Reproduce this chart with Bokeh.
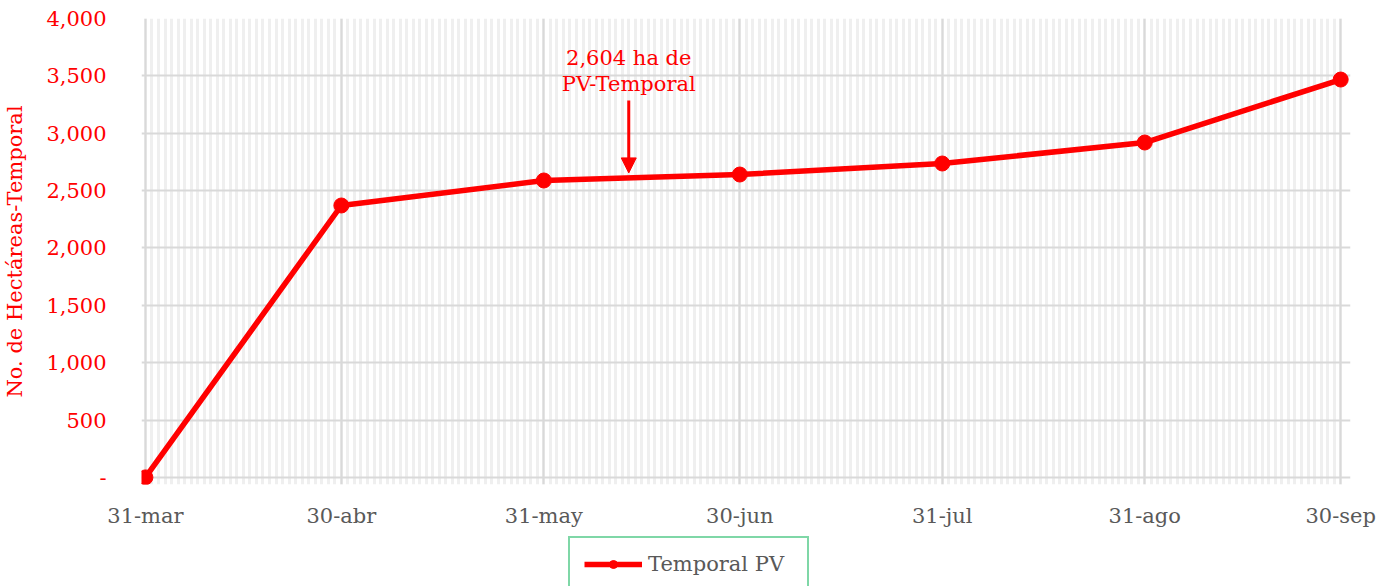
from datetime import datetime, timedelta
from bokeh.plotting import figure
from bokeh.layouts import column
from bokeh.models import (FixedTicker, Range1d, Legend, LegendItem, Label, Arrow,
                          NormalHead, ColumnDataSource)
from bokeh.embed import file_html
from bokeh.resources import INLINE

# ---- data ----
dates = ["2023-03-31", "2023-04-30", "2023-05-31", "2023-06-30", "2023-07-31", "2023-08-31", "2023-09-30"]
tick_labels = ["31-mar", "30-abr", "31-may", "30-jun", "31-jul", "31-ago", "30-sep"]
hectares = [0, 2370, 2588, 2640, 2736, 2919, 3468]
series_name = "Temporal PV"
y_ticks = [0, 500, 1000, 1500, 2000, 2500, 3000, 3500, 4000]
y_tick_labels = ["-", "500", "1,000", "1,500", "2,000", "2,500", "3,000", "3,500", "4,000"]
annot_date = "2023-06-13"
annot_value = 2604
annot_text = "2,604 ha de\nPV-Temporal"

FONT = "DejaVu Serif"
FS = "21px"
RED = "#FF0000"
GRAY_TXT = "#595959"

dt = [datetime.strptime(d, "%Y-%m-%d") for d in dates]
def ms(d):
    return (d - datetime(1970, 1, 1)).total_seconds() * 1000.0

xs = [ms(d) for d in dt]
DAY = 86400000.0
minor = [ms(dt[0] + timedelta(days=i)) for i in range(0, (dt[-1] - dt[0]).days + 1)]

p = figure(width=1382, height=536, x_axis_type="datetime",
           output_backend="svg", toolbar_location=None,
           min_border_left=141, min_border_right=32, min_border_top=18, min_border_bottom=52)
p.x_range = Range1d(xs[0] - 0.6 * DAY, xs[-1] + 1.5 * DAY)
p.y_range = Range1d(-62, 4000)
p.outline_line_color = None

# x axis
p.xaxis.ticker = FixedTicker(ticks=xs, minor_ticks=minor)
p.xaxis.major_label_overrides = {x: l for x, l in zip(xs, tick_labels)}
p.xaxis.major_label_text_font = FONT
p.xaxis.major_label_text_font_size = FS
p.xaxis.major_label_text_color = GRAY_TXT
p.xaxis.axis_line_color = None
p.xaxis.major_tick_line_color = None
p.xaxis.major_tick_out = 0
p.xaxis.major_tick_in = 0
p.xaxis.minor_tick_line_color = None
p.xaxis.major_label_standoff = 15

# y axis
p.yaxis.ticker = FixedTicker(ticks=y_ticks)
p.yaxis.major_label_overrides = {t: l for t, l in zip(y_ticks, y_tick_labels)}
p.yaxis.major_label_text_font = FONT
p.yaxis.major_label_text_font_size = FS
p.yaxis.major_label_text_color = RED
p.yaxis.axis_line_color = None
p.yaxis.major_tick_line_color = None
p.yaxis.minor_tick_line_color = None
p.yaxis.major_label_standoff = 29
p.yaxis.axis_label = "No. de Hectáreas-Temporal"
p.yaxis.axis_label_text_font = FONT
p.yaxis.axis_label_text_font_size = FS
p.yaxis.axis_label_text_font_style = "normal"
p.yaxis.axis_label_text_color = RED
p.yaxis.axis_label_standoff = 16

# grids
p.xgrid.grid_line_color = "#d9d9d9"
p.xgrid.grid_line_width = 2
p.xgrid.minor_grid_line_color = "#efefef"
p.xgrid.minor_grid_line_width = 3
p.ygrid.grid_line_color = "#d9d9d9"
p.ygrid.grid_line_width = 2

src = ColumnDataSource(dict(x=xs, y=hectares))
p.line("x", "y", source=src, line_color=RED, line_width=5.5)
p.scatter("x", "y", source=src, size=15, fill_color=RED, line_color=RED)

# annotation
ax = ms(datetime.strptime(annot_date, "%Y-%m-%d"))
lab = Label(x=ax, y=3760, text=annot_text, text_font=FONT, text_font_size=FS,
            text_color=RED, text_align="center", text_baseline="top", text_line_height=1.1)
p.add_layout(lab)
p.add_layout(Arrow(x_start=ax, y_start=3285, x_end=ax, y_end=annot_value + 50,
                   line_color=RED, line_width=3,
                   end=NormalHead(size=15, fill_color=RED, line_color=RED)))

# ---- legend strip (separate figure so the legend is not clipped) ----
p2 = figure(width=1382, height=50, output_backend="svg", toolbar_location=None,
            x_axis_location=None, y_axis_location=None, min_border=0)
p2.outline_line_color = None
p2.grid.visible = False
p2.x_range = Range1d(0, 1)
p2.y_range = Range1d(0, 1)
dummy = ColumnDataSource(dict(x=[5, 6], y=[5, 6]))
l2 = p2.line("x", "y", source=dummy, line_color=RED, line_width=5.5)
s2 = p2.scatter("x", "y", source=dummy, size=13, fill_color=RED, line_color=RED)

legend = Legend(items=[LegendItem(label=series_name, renderers=[l2, s2])],
                location=(427, -6), orientation="horizontal")
legend.label_text_font = FONT
legend.label_text_font_size = FS
legend.label_text_color = GRAY_TXT
legend.border_line_color = "#00B050"
legend.border_line_width = 2
legend.background_fill_color = "white"
legend.background_fill_alpha = 1
legend.glyph_width = 58
legend.label_width = 145
legend.padding = 14
legend.margin = 0
legend.label_standoff = 6
legend.spacing = 0
p2.add_layout(legend, "center")

layout = column(p, p2, spacing=0)
open("out.html", "w").write(file_html(layout, INLINE))
